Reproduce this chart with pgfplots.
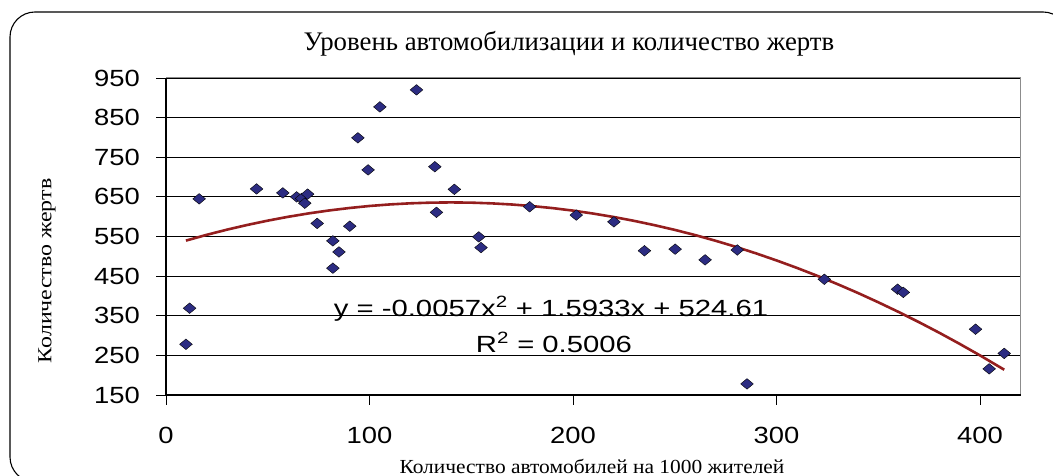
\documentclass[border=0pt]{standalone}
\usepackage{fontspec}
\setmainfont{Liberation Serif}
\newfontfamily\arial{Liberation Sans}
\usepackage{pgfplots}
\pgfplotsset{compat=1.18}
\definecolor{navy}{RGB}{44,44,130}
\definecolor{trend}{RGB}{148,30,30}
\newcommand{\ar}[1]{\scalebox{1.17}[1]{\arial\fontsize{23.5}{26}\selectfont #1}}
\newcommand{\eq}[1]{\scalebox{1.25}[1]{\arial\fontsize{23.5}{26}\selectfont #1}}

\pgfplotstableread{
x y
9.8 278
11.6 369
16.3 645
44.5 670
57.4 660
64.2 650
66.6 646
69.6 657
68.2 634
74.3 583
82.0 539
85.0 511
82.0 470
90.3 576
94.3 799
99.3 718
105.1 877
123.1 920
132.1 726
132.9 611
141.7 669
153.7 549
154.8 522
178.7 625
201.6 604
220.1 587
235.1 514
250.2 518
264.9 491
280.7 516
285.5 178
323.5 442
359.5 417
362.3 409
397.8 316
404.5 216
411.9 255
}\deaths

\pgfplotstableread{
x y
9.8 539.6
20 554.2
30 567.3
40 579.2
50 590.0
60 599.7
70 608.2
80 615.6
90 621.8
100 627.0
110 630.9
120 633.7
130 635.4
140 636.0
150 635.4
160 633.6
170 630.7
180 626.7
190 621.6
200 615.3
210 607.8
220 599.2
230 589.5
240 578.6
250 566.7
260 553.6
270 539.3
280 523.9
290 507.3
300 489.6
310 470.8
320 450.8
330 429.7
340 407.5
350 384.0
360 359.5
370 333.8
380 307.0
390 279.0
400 249.9
411.9 213.8
}\trendtab

\begin{document}
\begin{tikzpicture}[x=1bp,y=1bp]
\useasboundingbox (0,0) rectangle (1053,476);
\begin{scope}
\clip (0,0) rectangle (1053,476);
\draw[line width=1.1bp, rounded corners=25bp] (10,464) rectangle (1068,-6);
\end{scope}
\begin{axis}[
  scale only axis, width=854.7bp, height=317bp,
  at={(166bp,81bp)}, anchor=south west,
  xmin=0, xmax=420, ymin=150, ymax=950,
  xtick={0,100,200,300,400}, ytick={150,250,350,450,550,650,750,850,950},
  xticklabels={\ar{0},\ar{100},\ar{200},\ar{300},\ar{400}},
  yticklabels={\ar{150},\ar{250},\ar{350},\ar{450},\ar{550},\ar{650},\ar{750},\ar{850},\ar{950}},
  ymajorgrids, grid style={black, line width=0.8bp},
  axis line style={draw=black!45, line width=1bp},
  tick align=outside, major tick length=10bp,
  tick style={black, line width=0.8bp},
  xtick pos=bottom, ytick pos=left,
  xticklabel style={inner sep=0pt, anchor=north, yshift=-22bp},
  yticklabel style={inner sep=0pt, anchor=east, xshift=-16bp},
  clip=false,
]
\addplot[draw=trend, line width=2.6bp, no marks] table[x=x,y=y] {\trendtab};
\addplot[only marks, mark=diamond*, mark size=5.3bp, mark options={xscale=1.6, draw=none, fill=navy}] table[x=x,y=y] {\deaths};
\draw[black, line width=1.1bp] (rel axis cs:0,1) -- (rel axis cs:0,0) -- (rel axis cs:1,0);
\end{axis}
\node[anchor=base, inner sep=0pt] at (569,425) {\fontsize{26.9}{31}\selectfont Уровень автомобилизации и количество жертв};
\node[inner sep=0pt] at (592,10) {\scalebox{1.075}[1]{\fontsize{20}{24}\selectfont Количество автомобилей на 1000 жителей}};
\node[inner sep=0pt, rotate=90] at (47,205) {\scalebox{1.2}[1]{\fontsize{20}{24}\selectfont Количество жертв}};
\node[anchor=base, inner sep=0pt] at (551,159.7) {\eq{y = -0.0057x\textsuperscript{2} + 1.5933x + 524.61}};
\node[anchor=base, inner sep=0pt] at (554,123.3) {\eq{R\textsuperscript{2} = 0.5006}};
\end{tikzpicture}
\end{document}
